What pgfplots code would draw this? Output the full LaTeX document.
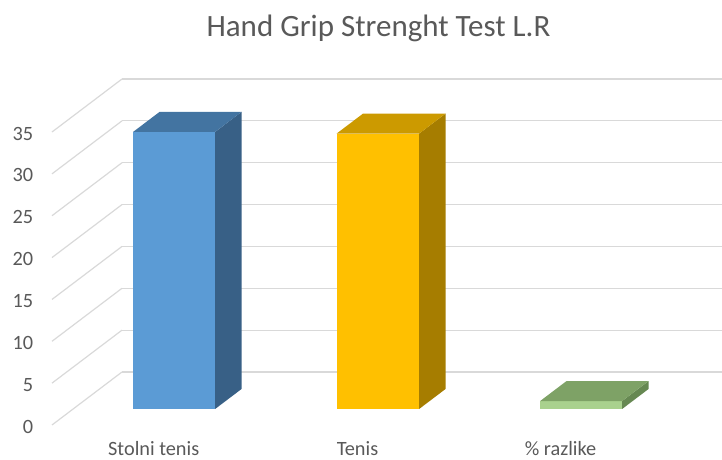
\documentclass[border=0pt]{standalone}
\usepackage{pgfplots}
\pgfplotsset{compat=1.18}
\usepackage{fontspec}
\setmainfont{Carlito}
\definecolor{txt}{RGB}{89,89,89}
\definecolor{gridc}{RGB}{217,217,217}
\definecolor{bluef}{RGB}{91,155,213}
\definecolor{bluet}{RGB}{67,116,161}
\definecolor{blues}{RGB}{56,96,134}
\definecolor{goldf}{RGB}{255,192,0}
\definecolor{goldt}{RGB}{204,154,0}
\definecolor{golds}{RGB}{166,125,0}
\definecolor{greenf}{RGB}{169,209,142}
\definecolor{greent}{RGB}{126,162,102}
\definecolor{greens}{RGB}{102,136,82}
% #1,#2: front-plane x range; #3: value; #4,#5,#6: front/side/top colours
\newcommand\drawbar[6]{%
  \addplot3[fill=#4, draw=none] coordinates {(#1,0.302,0) (#2,0.302,0) (#2,0.302,#3) (#1,0.302,#3)};
  \addplot3[fill=#5, draw=none] coordinates {(#2,0.302,0) (#2,0.679,0) (#2,0.679,#3) (#2,0.302,#3)};
  \addplot3[fill=#6, draw=none] coordinates {(#1,0.302,#3) (#2,0.302,#3) (#2,0.679,#3) (#1,0.679,#3)};
}
\begin{document}
\begin{tikzpicture}
\begin{axis}[
  x={(1pt,0pt)}, y={(70pt,53pt)}, z={(0pt,8.371pt)},
  xmin=52, xmax=652, ymin=0, ymax=1, zmin=0, zmax=35,
  axis line style={draw=none},
  major tick length=0pt,
  ztick={0,5,...,35},
  xtick={153.7,357.5,560.5},
  xticklabels={Stolni tenis, Tenis, \% razlike},
  ytick=\empty,
  zmajorgrids,
  major grid style={color=gridc, line width=1.2pt},
  tick label style={font=\fontsize{20.3}{22}\selectfont, text=txt, inner sep=0pt},
  x tick label style={anchor=base, yshift=-31pt},
  z tick label style={anchor=east, xshift=-18.7pt, yshift=-1.5pt},
  /pgf/number format/assume math mode=true,
  clip=false,
  no markers,
  ]
  \drawbar{112}{194}{33.1}{bluef}{blues}{bluet}
  \drawbar{315.5}{398}{32.9}{goldf}{golds}{goldt}
  \drawbar{519}{601}{0.95}{greenf}{greens}{greent}
  \node[anchor=base, inner sep=0pt, font=\fontsize{31}{34}\selectfont, text=txt] at (axis cs:378.5,0,46.38) {Hand Grip Strenght Test L.R};
  \coordinate (TL) at (axis cs:0,0,50.77);
  \coordinate (BR) at (axis cs:722,0,-4.181);
\end{axis}
\pgfresetboundingbox
\path[use as bounding box] (TL) rectangle (BR);
\end{tikzpicture}
\end{document}
